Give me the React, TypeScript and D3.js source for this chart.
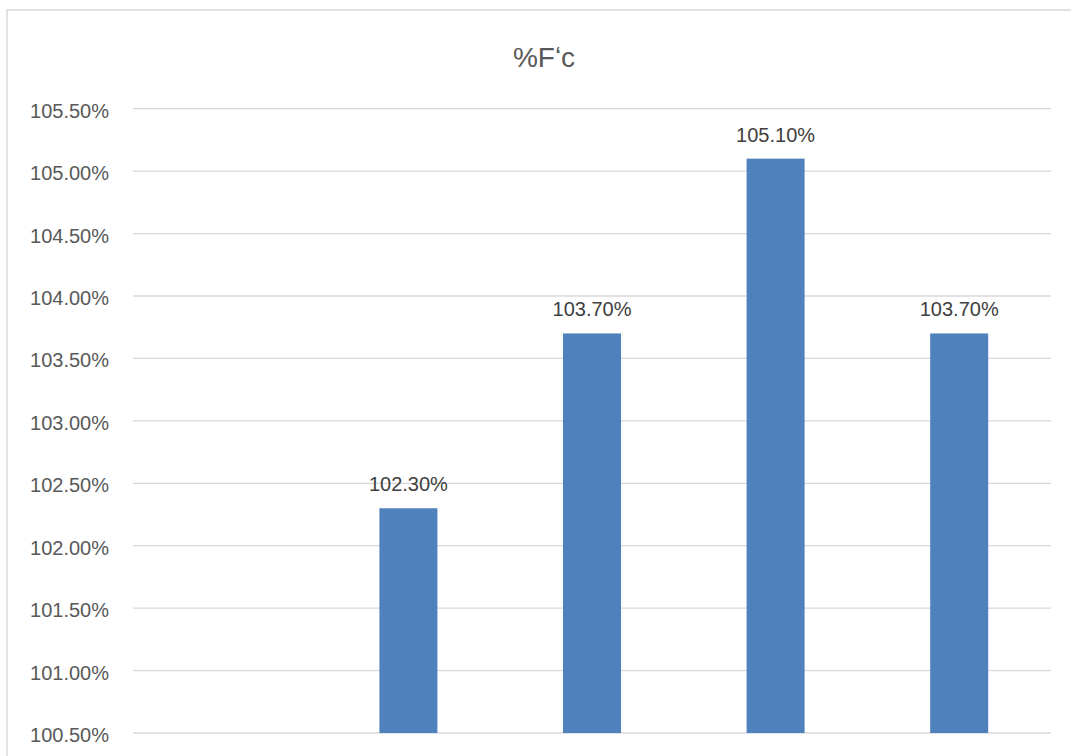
import React from "react";
import * as d3 from "d3";

const categories = ["", "2", "3", "4", "5"];
const values: (number | null)[] = [null, 102.3, 103.7, 105.1, 103.7];
const yTicks = [100.5, 101, 101.5, 102, 102.5, 103, 103.5, 104, 104.5, 105, 105.5];
const title = "%F\u02BBc";

const W = 1071;
const H = 756;
const plotLeft = 133;
const plotRight = 1051;
const plotTop = 108.7;
const plotBottom = 733;
const font = "'Liberation Sans', Arial, sans-serif";

export default function App() {
  const x = d3.scaleBand<string>().domain(categories).range([plotLeft, plotRight]);
  const y = d3.scaleLinear().domain([100.5, 105.5]).range([plotBottom, plotTop]);
  const bw = 58;
  const fmt = (v: number) => v.toFixed(2) + "%";

  return (
    <svg
      width={W}
      height={H}
      style={{ position: "fixed", left: 0, top: 0, display: "block", background: "#fff" }}
    >
      <rect x={7} y={10} width={W + 20} height={H + 20} fill="#fff" stroke="#d9d9d9" strokeWidth={1.5} />
      <text x={544} y={67} textAnchor="middle" fontFamily={font} fontSize={28} fill="#595959">
        {title}
      </text>
      {yTicks.map((t) => (
        <g key={t}>
          <line x1={plotLeft} x2={plotRight} y1={y(t)} y2={y(t)} stroke="#d9d9d9" strokeWidth={1.3} />
          <text x={109} y={y(t) + 9} textAnchor="end" fontFamily={font} fontSize={20} fill="#595959">
            {fmt(t)}
          </text>
        </g>
      ))}
      {categories.map((c, i) => {
        const v = values[i];
        if (v == null) return null;
        const cx = (x(c) as number) + x.bandwidth() / 2;
        return (
          <g key={i}>
            <rect x={cx - bw / 2} y={y(v)} width={bw} height={plotBottom - y(v)} fill="#4f81bd" />
            <text x={cx} y={y(v) - 17} textAnchor="middle" fontFamily={font} fontSize={20} fill="#404040">
              {fmt(v)}
            </text>
          </g>
        );
      })}
    </svg>
  );
}
